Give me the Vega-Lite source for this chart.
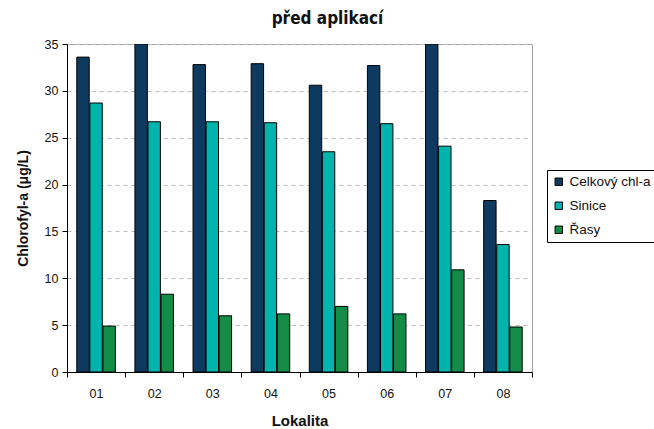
{
  "$schema": "https://vega.github.io/schema/vega-lite/v6.json",
  "width": 465,
  "height": 328,
  "autosize": {"type": "none"},
  "padding": {"left": 67, "top": 44, "right": 122, "bottom": 57},
  "background": "white",
  "title": {
    "text": "před aplikací",
    "font": "DejaVu Sans Condensed",
    "fontSize": 17,
    "fontWeight": "bold",
    "color": "#111111",
    "anchor": "middle",
    "dx": 28,
    "offset": 10
  },
  "data": {
    "values": [
      {"lokalita": "01", "serie": "Celkový chl-a", "hodnota": 33.6},
      {"lokalita": "01", "serie": "Sinice", "hodnota": 28.7},
      {"lokalita": "01", "serie": "Řasy", "hodnota": 4.9},
      {"lokalita": "02", "serie": "Celkový chl-a", "hodnota": 35.0},
      {"lokalita": "02", "serie": "Sinice", "hodnota": 26.7},
      {"lokalita": "02", "serie": "Řasy", "hodnota": 8.3},
      {"lokalita": "03", "serie": "Celkový chl-a", "hodnota": 32.8},
      {"lokalita": "03", "serie": "Sinice", "hodnota": 26.7},
      {"lokalita": "03", "serie": "Řasy", "hodnota": 6.0},
      {"lokalita": "04", "serie": "Celkový chl-a", "hodnota": 32.9},
      {"lokalita": "04", "serie": "Sinice", "hodnota": 26.6},
      {"lokalita": "04", "serie": "Řasy", "hodnota": 6.2},
      {"lokalita": "05", "serie": "Celkový chl-a", "hodnota": 30.6},
      {"lokalita": "05", "serie": "Sinice", "hodnota": 23.5},
      {"lokalita": "05", "serie": "Řasy", "hodnota": 7.0},
      {"lokalita": "06", "serie": "Celkový chl-a", "hodnota": 32.7},
      {"lokalita": "06", "serie": "Sinice", "hodnota": 26.5},
      {"lokalita": "06", "serie": "Řasy", "hodnota": 6.2},
      {"lokalita": "07", "serie": "Celkový chl-a", "hodnota": 35.0},
      {"lokalita": "07", "serie": "Sinice", "hodnota": 24.1},
      {"lokalita": "07", "serie": "Řasy", "hodnota": 10.9},
      {"lokalita": "08", "serie": "Celkový chl-a", "hodnota": 18.3},
      {"lokalita": "08", "serie": "Sinice", "hodnota": 13.6},
      {"lokalita": "08", "serie": "Řasy", "hodnota": 4.8}
    ]
  },
  "mark": {"type": "bar", "stroke": "#000000", "strokeWidth": 1, "clip": true},
  "encoding": {
    "x": {
      "field": "lokalita",
      "type": "nominal",
      "scale": {"paddingInner": 0, "paddingOuter": 0},
      "axis": {
        "title": "Lokalita",
        "labelAngle": 0,
        "tickBand": "extent",
        "domainColor": "#000000",
        "tickColor": "#000000",
        "tickSize": 5,
        "labelPadding": 10,
        "labelFont": "Liberation Sans",
        "labelFontSize": 12.5,
        "labelColor": "#111111",
        "titleFont": "Liberation Sans",
        "titleFontSize": 15,
        "titleFontWeight": "bold",
        "titleColor": "#111111",
        "titlePadding": 14
      }
    },
    "xOffset": {
      "field": "serie",
      "type": "nominal",
      "sort": ["Celkový chl-a", "Sinice", "Řasy"],
      "scale": {"paddingInner": 0.05, "paddingOuter": 0.75}
    },
    "y": {
      "field": "hodnota",
      "type": "quantitative",
      "scale": {"domain": [0, 35], "nice": false},
      "axis": {
        "title": "Chlorofyl-a (μg/L)",
        "values": [0, 5, 10, 15, 20, 25, 30, 35],
        "domainColor": "#000000",
        "tickColor": "#000000",
        "tickSize": 5,
        "labelPadding": 4,
        "labelFont": "Liberation Sans",
        "labelFontSize": 12.5,
        "labelColor": "#111111",
        "titleFont": "Liberation Sans",
        "titleFontSize": 14,
        "titleFontWeight": "bold",
        "titleColor": "#111111",
        "titlePadding": 14,
        "gridColor": "#bdbdbd",
        "gridDash": [4, 4],
        "gridWidth": 1
      }
    },
    "color": {
      "field": "serie",
      "type": "nominal",
      "sort": ["Celkový chl-a", "Sinice", "Řasy"],
      "scale": {
        "domain": ["Celkový chl-a", "Sinice", "Řasy"],
        "range": ["#0e3a5f", "#00b4ae", "#128c46"]
      },
      "legend": {
        "title": null,
        "orient": "none",
        "legendX": 480,
        "legendY": 126,
        "strokeColor": "#000000",
        "padding": 5,
        "symbolType": "square",
        "symbolSize": 55,
        "symbolStrokeColor": "#000000",
        "symbolStrokeWidth": 1,
        "labelFont": "Liberation Sans",
        "labelFontSize": 13.5,
        "labelColor": "#111111",
        "labelOffset": 4,
        "rowPadding": 9
      }
    }
  },
  "config": {
    "view": {"stroke": "#a0a0a0", "strokeWidth": 1},
    "axisY": {"grid": true},
    "axisX": {"grid": false}
  }
}
